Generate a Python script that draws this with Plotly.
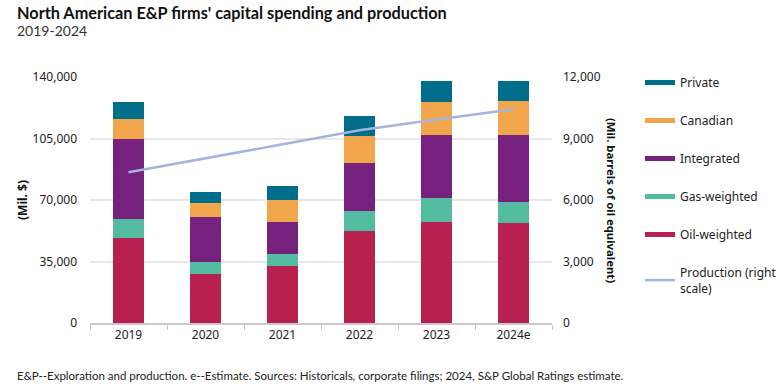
import plotly.graph_objects as go

years = ["2019", "2020", "2021", "2022", "2023", "2024e"]
oil_weighted = [48600, 28000, 32500, 52400, 57500, 56900]
gas_weighted = [10600, 6800, 6800, 11400, 13600, 12000]
integrated = [45400, 25500, 18200, 27200, 35800, 38000]
canadian = [11400, 8000, 12500, 15300, 18700, 19300]
private = [9600, 6200, 7900, 11400, 12000, 11400]
production = [7350, 8040, 8725, 9400, 9930, 10430]

left_ticks = [0, 35000, 70000, 105000, 140000]
right_ticks = [0, 3000, 6000, 9000, 12000]

colors = {
    "Oil-weighted": "#B82050",
    "Gas-weighted": "#53BBA0",
    "Integrated": "#76217E",
    "Canadian": "#F2A64B",
    "Private": "#006E8A",
}
prod_color = "#A8B2DE"

W, H = 784, 386
L, R, T, B = 90, 552, 77, 323
pw, ph = R - L, B - T

def px(x):
    return (x - L) / pw

def py(y):
    return (B - y) / ph

font = "Noto Sans"
fig = go.Figure()

series = [("Oil-weighted", oil_weighted), ("Gas-weighted", gas_weighted),
          ("Integrated", integrated), ("Canadian", canadian), ("Private", private)]
for name, vals in series:
    fig.add_trace(go.Bar(x=years, y=vals, name=name, marker_color=colors[name],
                         marker_line_width=0, showlegend=False))

# legend entries (line swatches)
for i, name in enumerate(["Private", "Canadian", "Integrated", "Gas-weighted", "Oil-weighted"]):
    fig.add_trace(go.Scatter(x=[None], y=[None], mode="lines", name=name,
                             line=dict(color=colors[name], width=5),
                             legendgroup=f"g{i}"))

fig.add_trace(go.Scatter(x=years, y=production, yaxis="y2", mode="lines",
                         line=dict(color=prod_color, width=2.5), showlegend=True,
                         name="Production (right<br>scale)", legendgroup="g5"))

fig.update_layout(
    width=W, height=H,
    margin=dict(l=L, r=W - R, t=T, b=H - B, pad=0, autoexpand=False),
    barmode="stack", bargap=0.585,
    plot_bgcolor="white", paper_bgcolor="white",
    font=dict(family=font, size=12, color="#222222"),
    xaxis=dict(type="category", showline=True, linecolor="#C8C8C8", linewidth=2,
               ticks="outside", tickson="boundaries", ticklen=5, tickcolor="#C8C8C8",
               tickfont=dict(size=12, color="#222222"), showgrid=False),
    yaxis=dict(range=[0, 140000], tickvals=left_ticks, tickformat=",",
               showgrid=True, gridcolor="#E8E8E8", gridwidth=1.5, zeroline=False,
               showline=False, ticks="", ticklabelstandoff=12,
               tickfont=dict(size=12, color="#222222")),
    yaxis2=dict(range=[0, 12000], tickvals=right_ticks, tickformat=",", overlaying="y",
                side="right", showgrid=False, zeroline=False, showline=False,
                ticklabelstandoff=10, tickfont=dict(size=12, color="#222222")),
    legend=dict(x=px(640), y=py(68), xanchor="left", yanchor="top", maxheight=380,
                traceorder="grouped", tracegroupgap=19, font=dict(size=12, color="#222222"),
                itemwidth=30, bgcolor="rgba(0,0,0,0)"),
    annotations=[
        dict(text="<b>North American E&P firms' capital spending and production</b>",
             xref="paper", yref="paper", x=px(15), y=py(1), xanchor="left", yanchor="top",
             showarrow=False, font=dict(size=16.3, color="#111111", family="Lato")),
        dict(text="2019-2024", xref="paper", yref="paper", x=px(15), y=py(20),
             xanchor="left", yanchor="top", showarrow=False,
             font=dict(size=14, color="#333333", family="Lato")),
        dict(text="<b>(Mil. $)</b>", xref="paper", yref="paper", x=px(22), y=0.5,
             xanchor="center", yanchor="middle",
             textangle=-90, showarrow=False, font=dict(size=12, color="#111111")),
        dict(text="<b>(Mil. barrels of oil equivalent)</b>", xref="paper", yref="paper",
             x=px(612), y=py(200), xanchor="center", yanchor="middle", textangle=90,
             showarrow=False, font=dict(size=11.3, color="#111111")),
        dict(text="E&P--Exploration and production. e--Estimate. Sources: Historicals, corporate filings; 2024, S&P Global Ratings estimate.",
             xref="paper", yref="paper", x=px(15), y=py(367), xanchor="left", yanchor="top",
             showarrow=False, font=dict(size=11.5, color="#222222", family="Lato")),
        dict(text="Copyright © 2024 by Standard & Poor's Financial Services LLC. All rights reserved.",
             xref="paper", yref="paper", x=px(15), y=py(383), xanchor="left", yanchor="top",
             showarrow=False, font=dict(size=11.5, color="#222222", family="Lato")),
    ],
)

fig.write_html("out.html", config={"displayModeBar": False},
               post_script="document.body.style.margin='0';document.body.style.overflow='hidden';")
